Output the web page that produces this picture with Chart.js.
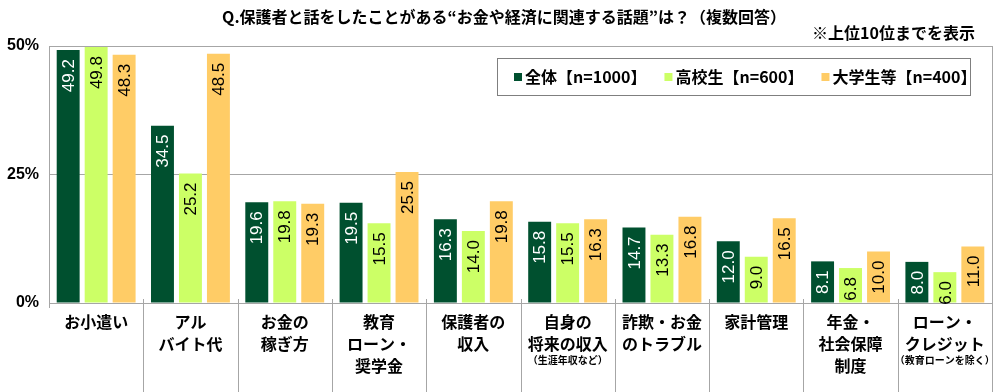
<!DOCTYPE html>
<html>
<head>
<meta charset="utf-8">
<script src="https://cdn.jsdelivr.net/npm/chart.js@4.4.0/dist/chart.umd.min.js"></script>
<style>
  html, body { margin: 0; padding: 0; background: #fff; }
  #wrap { width: 1000px; height: 392px; }
</style>
</head>
<body>
<div id="wrap"><canvas id="myChart"></canvas></div>
<script>
// カテゴリ（改行は配列で）
const categories = [
  ['お小遣い'],
  ['アル', 'バイト代'],
  ['お金の', '稼ぎ方'],
  ['教育', 'ローン・', '奨学金'],
  ['保護者の', '収入'],
  ['自身の', '将来の収入'],
  ['詐欺・お金', 'のトラブル'],
  ['家計管理'],
  ['年金・', '社会保障', '制度'],
  ['ローン・', 'クレジット']
];
// 小さい注記
const notes = ['', '', '', '', '', '（生涯年収など）', '', '', '', '（教育ローンを除く）'];

const seriesNames = ['全体【n=1000】', '高校生【n=600】', '大学生等【n=400】'];
const allValues  = [49.2, 34.5, 19.6, 19.5, 16.3, 15.8, 14.7, 12.0, 8.1, 8.0];
const highValues = [49.8, 25.2, 19.8, 15.5, 14.0, 15.5, 13.3, 9.0, 6.8, 6.0];
const univValues = [48.3, 48.5, 19.3, 25.5, 19.8, 16.3, 16.8, 16.5, 10.0, 11.0];
const yTicks = [0, 25, 50];

const colors = ['#00502f', '#ccff66', '#ffcc66'];
const labelColors = ['#ffffff', '#000000', '#000000'];

const JP = '"Noto Sans CJK JP", "Noto Sans", sans-serif';

const overlay = {
  id: 'overlay',
  afterDatasetsDraw(chart) {
    const ctx = chart.ctx;
    const x = chart.scales.x;
    const area = chart.chartArea;

    // 値ラベル（縦書き）
    chart.data.datasets.forEach((ds, di) => {
      chart.getDatasetMeta(di).data.forEach((bar, i) => {
        ctx.save();
        ctx.translate(bar.x, bar.y + 9);
        ctx.rotate(-Math.PI / 2);
        ctx.font = '17px "Liberation Sans", Arial, sans-serif';
        ctx.fillStyle = labelColors[di];
        ctx.textAlign = 'right';
        ctx.textBaseline = 'middle';
        ctx.fillText(ds.data[i].toFixed(1), 0, 1);
        ctx.restore();
      });
    });

    // 右枠
    ctx.save();
    ctx.strokeStyle = '#a6a6a6';
    ctx.lineWidth = 1;
    ctx.beginPath();
    ctx.moveTo(Math.round(area.right) + 0.5, area.top);
    ctx.lineTo(Math.round(area.right) + 0.5, area.bottom);
    ctx.stroke();

    // カテゴリ区切り線
    for (let i = 0; i <= categories.length; i++) {
      let px;
      if (i === 0) px = area.left;
      else if (i === categories.length) px = area.right;
      else px = (x.getPixelForValue(i - 1) + x.getPixelForValue(i)) / 2;
      px = Math.round(px) + 0.5;
      ctx.beginPath();
      if (i === 0) {
        ctx.moveTo(px, area.bottom);
        ctx.lineTo(px, area.bottom + 5);
      } else {
        ctx.moveTo(px, area.bottom - 4);
        ctx.lineTo(px, chart.height);
      }
      ctx.stroke();
    }
    ctx.restore();

    // カテゴリラベル
    ctx.save();
    ctx.textAlign = 'center';
    ctx.textBaseline = 'top';
    ctx.fillStyle = '#000';
    categories.forEach((lines, i) => {
      const cx = x.getPixelForValue(i);
      let y = area.bottom + 11;
      ctx.font = 'bold 16px ' + JP;
      lines.forEach(line => {
        ctx.fillText(line, cx, y);
        y += 22;
      });
      if (notes[i]) {
        ctx.font = 'bold 10px ' + JP;
        ctx.fillText(notes[i], cx, y - 3);
      }
    });
    ctx.restore();

    // タイトル
    ctx.save();
    ctx.fillStyle = '#000';
    ctx.textBaseline = 'middle';
    ctx.textAlign = 'center';
    ctx.font = 'bold 16px ' + JP;
    ctx.fillText('Q.保護者と話をしたことがある“お金や経済に関連する話題”は？（複数回答）', 504, 17);
    ctx.textAlign = 'right';
    ctx.fillText('※上位10位までを表示', 975, 33);
    ctx.restore();

    // 凡例
    ctx.save();
    ctx.fillStyle = '#fff';
    ctx.fillRect(497, 58, 473, 37);
    ctx.strokeStyle = '#7f7f7f';
    ctx.lineWidth = 1;
    ctx.strokeRect(497.5, 58.5, 473, 37);
    ctx.font = 'bold 16px ' + JP;
    ctx.textAlign = 'left';
    ctx.textBaseline = 'middle';
    let lx = 514;
    seriesNames.forEach((name, i) => {
      ctx.fillStyle = colors[i];
      ctx.fillRect(lx, 73, 8, 8);
      ctx.fillStyle = '#000';
      ctx.fillText(name, lx + 11, 77);
      lx += 11 + ctx.measureText(name).width + 18;
    });
    ctx.restore();
  }
};

new Chart(document.getElementById('myChart'), {
  type: 'bar',
  data: {
    labels: categories,
    datasets: [
      { label: seriesNames[0], data: allValues,  backgroundColor: colors[0] },
      { label: seriesNames[1], data: highValues, backgroundColor: colors[1] },
      { label: seriesNames[2], data: univValues, backgroundColor: colors[2] }
    ]
  },
  options: {
    responsive: true,
    maintainAspectRatio: false,
    animation: false,
    layout: { padding: { top: 46, right: 8, left: 0, bottom: 0 } },
    datasets: {
      bar: { categoryPercentage: 0.89, barPercentage: 0.82 }
    },
    scales: {
      x: {
        grid: { display: false },
        border: { display: true, color: '#a6a6a6' },
        ticks: { display: false },
        afterFit(scale) { scale.height = 89; }
      },
      y: {
        min: 0,
        max: 50,
        afterBuildTicks(scale) { scale.ticks = yTicks.map(v => ({ value: v })); },
        grid: { color: '#a6a6a6', drawTicks: false },
        border: { display: true, color: '#a6a6a6' },
        ticks: {
          padding: 10,
          color: '#000',
          font: { size: 16, weight: 'bold', family: '"Liberation Sans", Arial, sans-serif' },
          callback: v => v + '%'
        },
        afterFit(scale) { scale.width = 49; }
      }
    },
    plugins: {
      legend: { display: false },
      tooltip: { enabled: false }
    }
  },
  plugins: [overlay]
});
</script>
</body>
</html>
